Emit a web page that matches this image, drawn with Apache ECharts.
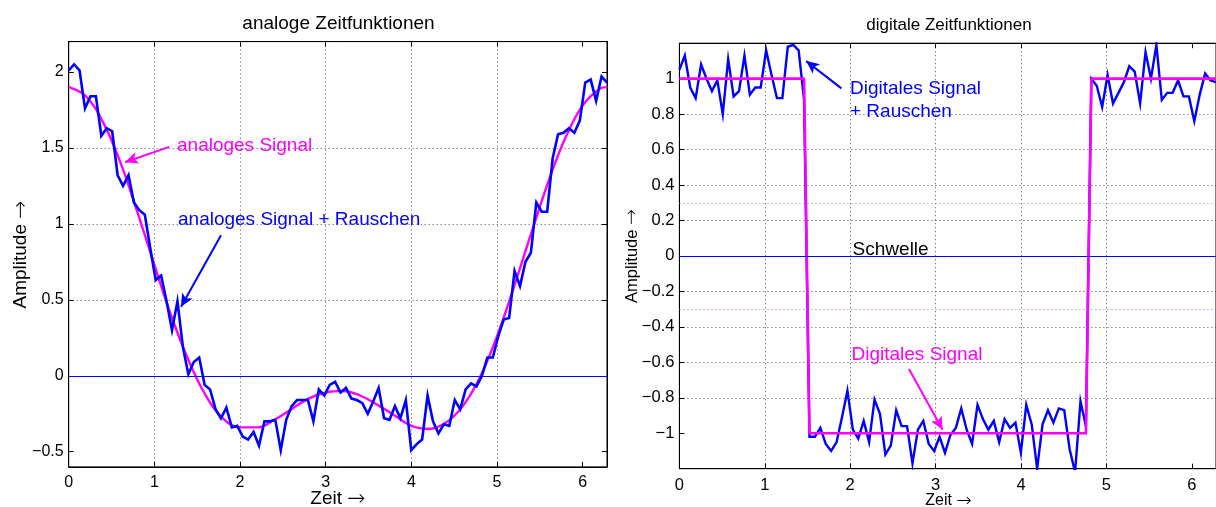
<!DOCTYPE html>
<html>
<head>
<meta charset="utf-8">
<script src="https://cdn.jsdelivr.net/npm/echarts@6/dist/echarts.min.js"></script>
<style>
html, body { margin: 0; padding: 0; background: #fff; }
#chart { width: 1216px; height: 507px; }
</style>
</head>
<body>
<div id="chart"></div>
<script>
"use strict";
var fontName = '"Liberation Sans", Arial, Helvetica, sans-serif';
var blue = '#0000ff';
var magenta = '#ff00ff';

// 100 samples from 0 to 2*pi
var tMax = 2 * Math.PI;
var tStep = tMax / 99;

// left: analog signal + noise (one value per sample)
var analogNoisy = [
	2.01, 2.05, 2.01, 1.76, 1.84, 1.84, 1.58, 1.63, 1.61, 1.32,
	1.25, 1.32, 1.14, 1.09, 1.06, 0.84, 0.63, 0.66, 0.49, 0.30,
	0.49, 0.19, 0.01, 0.09, 0.12, -0.06, -0.09, -0.22, -0.28, -0.21,
	-0.34, -0.33, -0.40, -0.42, -0.37, -0.46, -0.30, -0.30, -0.29, -0.49,
	-0.29, -0.20, -0.16, -0.16, -0.16, -0.30, -0.09, -0.13, -0.06, -0.04,
	-0.11, -0.08, -0.15, -0.16, -0.18, -0.25, -0.17, -0.08, -0.28, -0.29,
	-0.20, -0.28, -0.16, -0.49, -0.45, -0.42, -0.13, -0.30, -0.38, -0.32,
	-0.33, -0.16, -0.22, -0.09, -0.05, -0.07, 0.00, 0.12, 0.12, 0.26,
	0.37, 0.38, 0.69, 0.59, 0.75, 0.81, 1.14, 1.08, 1.08, 1.43,
	1.59, 1.60, 1.63, 1.60, 1.68, 1.93, 1.95, 1.81, 1.97, 1.93
];

// left: clean analog signal
var analogT = [0, 0.2, 0.4, 0.6, 0.8, 1.0, 1.2, 1.4, 1.6, 1.8, 2.0, 2.2, 2.4, 2.6, 2.8, 3.0,
	3.2, 3.4, 3.6, 3.8, 4.0, 4.2, 4.4, 4.6, 4.8, 5.0, 5.2, 5.4, 5.6, 5.8, 6.0, 6.2, 6.283];
var analogV = [1.90, 1.84, 1.67, 1.41, 1.08, 0.73, 0.39, 0.10, -0.13, -0.28, -0.34, -0.34, -0.29, -0.22, -0.15, -0.11,
	-0.10, -0.13, -0.19, -0.26, -0.33, -0.35, -0.31, -0.20, -0.01, 0.26, 0.59, 0.94, 1.28, 1.57, 1.78, 1.89, 1.90];

// right: digital signal + noise
var digitalNoisy = [
	1.05, 1.13, 0.95, 0.89, 1.08, 1.00, 0.93, 0.99, 0.80, 1.11,
	0.90, 0.93, 1.13, 0.91, 0.95, 0.95, 1.16, 1.02, 0.89, 0.89,
	1.18, 1.19, 1.16, 0.88, -1.02, -1.02, -0.97, -1.06, -1.10, -1.05,
	-0.91, -0.76, -0.98, -1.03, -0.93, -1.05, -0.81, -0.89, -1.12, -1.07,
	-0.87, -0.96, -0.96, -1.17, -0.98, -0.93, -1.06, -1.10, -1.02, -1.11,
	-1.01, -0.97, -0.86, -0.98, -1.06, -0.84, -0.92, -0.98, -0.93, -1.05,
	-0.92, -0.97, -0.94, -1.11, -0.84, -0.95, -1.20, -0.95, -0.87, -0.94,
	-0.86, -0.87, -1.09, -1.22, -0.82, -0.96, 1.00, 0.96, 0.84, 1.02,
	0.86, 0.92, 0.98, 1.07, 1.04, 0.86, 1.15, 1.00, 1.19, 0.88,
	0.92, 0.92, 0.99, 0.90, 0.90, 0.76, 0.91, 1.03, 0.99, 0.98
];

// right: clean digital signal (corner points)
var digitalT = [0, 1.460, 1.523, 4.760, 4.824, 6.283];
var digitalV = [1, 1, -1, -1, 1, 1];

var xTicks = [0, 1, 2, 3, 4, 5, 6];
var leftYTicks = [-0.5, 0, 0.5, 1, 1.5, 2];
var rightYTicks = [-1, -0.8, -0.6, -0.4, -0.2, 0, 0.2, 0.4, 0.6, 0.8, 1];

function sampled(values) {
	return values.map(function(v, i) { return [i * tStep, v]; });
}

function paired(ts, vs) {
	return ts.map(function(t, i) { return [t, vs[i]]; });
}

function minusSign(v) {
	return String(v).replace('-', '\u2212');
}

function axis(pos, gridIndex, min, max, ticks, withLabels, fontSize, margin) {
	return {
		type : 'value',
		gridIndex : gridIndex,
		position : pos,
		min : min,
		max : max,
		axisLine : { show : true, onZero : false, lineStyle : { color : '#000', width : 1 } },
		axisTick : { show : true, inside : true, length : 5, customValues : ticks, lineStyle : { color : '#000' } },
		axisLabel : {
			show : withLabels,
			customValues : ticks,
			color : '#000',
			fontFamily : fontName,
			fontSize : fontSize,
			margin : margin,
			formatter : minusSign
		},
		splitLine : {
			show : withLabels,
			showMinLine : false,
			showMaxLine : false,
			lineStyle : { color : '#555', width : 1, type : [1, 3] }
		}
	};
}

function arrow(color, from, to) {
	return {
		type : 'line',
		xAxisIndex : from.xi,
		yAxisIndex : from.yi,
		data : [],
		silent : true,
		markLine : {
			silent : true,
			symbol : [ 'none', 'arrow' ],
			symbolSize : [ 9, 13 ],
			label : { show : false },
			lineStyle : { color : color, width : 2, type : 'solid' },
			data : [ [ { coord : from.c }, { coord : to } ] ]
		}
	};
}

// plain text, or "name {ar|→}" with the arrow taken from DejaVu (wider glyph)
function text(str, x, y, size, color, align, rotation) {
	return {
		type : 'text',
		x : x,
		y : y,
		rotation : rotation || 0,
		silent : true,
		style : {
			text : str,
			fill : color,
			fontFamily : fontName,
			fontSize : size,
			align : align,
			verticalAlign : 'middle',
			rich : {
				ar : { fontFamily : '"DejaVu Sans"', fontWeight : 200, fontSize : size * 1.15, fill : color }
			}
		}
	};
}

var chart = echarts.init(document.getElementById('chart'), null, { renderer : 'canvas' });

chart.setOption({
	animation : false,
	backgroundColor : '#fff',
	grid : [
		{ left : 68.7, right : 609, top : 41.6, bottom : 40.1, show : true, borderColor : '#000', borderWidth : 1 },
		{ left : 679.4, right : -3.3, top : 43.2, bottom : 38.3, show : true, borderColor : '#000', borderWidth : 1 }
	],
	xAxis : [
		axis('bottom', 0, 0, tMax, xTicks, true, 16, 8),
		axis('top', 0, 0, tMax, xTicks, false, 16, 8),
		axis('bottom', 1, 0, tMax, xTicks, true, 16.5, 8),
		axis('top', 1, 0, tMax, xTicks, false, 16.5, 8)
	],
	yAxis : [
		axis('left', 0, -0.6, 2.2, leftYTicks, true, 16, 5),
		axis('right', 0, -0.6, 2.2, leftYTicks, false, 16, 5),
		axis('left', 1, -1.2, 1.2, rightYTicks, true, 16.5, 5)
	],
	series : [
		{
			name : 'analoges Signal',
			type : 'line',
			xAxisIndex : 0,
			yAxisIndex : 0,
			data : paired(analogT, analogV),
			smooth : 0.4,
			symbol : 'none',
			lineStyle : { color : magenta, width : 2.4 },
			z : 2
		},
		{
			name : 'analoges Signal + Rauschen',
			type : 'line',
			xAxisIndex : 0,
			yAxisIndex : 0,
			data : sampled(analogNoisy),
			symbol : 'none',
			lineStyle : { color : blue, width : 2.6, join : 'miter' },
			z : 3,
			markLine : {
				silent : true,
				symbol : 'none',
				label : { show : false },
				lineStyle : { color : blue, width : 1, type : 'solid' },
				data : [ { yAxis : 0 } ]
			}
		},
		{
			name : 'Digitales Signal + Rauschen',
			type : 'line',
			xAxisIndex : 2,
			yAxisIndex : 2,
			data : sampled(digitalNoisy),
			symbol : 'none',
			lineStyle : { color : blue, width : 2.4, join : 'miter' },
			z : 2,
			markLine : {
				silent : true,
				symbol : 'none',
				label : { show : false },
				data : [
					{ yAxis : 0, lineStyle : { color : blue, width : 1, type : 'solid' } },
					{ yAxis : 0.3, lineStyle : { color : '#7a7aff', width : 1, type : [1, 3] } },
					{ yAxis : -0.3, lineStyle : { color : '#7a7aff', width : 1, type : [1, 3] } }
				]
			}
		},
		{
			name : 'Digitales Signal',
			type : 'line',
			xAxisIndex : 2,
			yAxisIndex : 2,
			data : paired(digitalT, digitalV),
			symbol : 'none',
			lineStyle : { color : magenta, width : 2.6 },
			z : 3
		},
		arrow(magenta, { xi : 0, yi : 0, c : [1.174, 1.507] }, [0.657, 1.406]),
		arrow(blue, { xi : 0, yi : 0, c : [1.778, 0.925] }, [1.311, 0.454]),
		arrow(blue, { xi : 2, yi : 2, c : [1.897, 0.945] }, [1.485, 1.099]),
		arrow(magenta, { xi : 2, yi : 2, c : [2.688, -0.638] }, [3.082, -0.980])
	],
	graphic : [
		text('analoge Zeitfunktionen', 338.5, 24, 19, '#000', 'center'),
		text('digitale Zeitfunktionen', 949, 25, 17, '#000', 'center'),
		text('Amplitude {ar|\u2192}', 21, 254.5, 19, '#000', 'center', Math.PI / 2),
		text('Zeit {ar|\u2192}', 338, 499, 19, '#000', 'center'),
		text('Amplitude {ar|\u2192}', 632, 256, 16.5, '#000', 'center', Math.PI / 2),
		text('Zeit {ar|\u2192}', 948.5, 501, 16, '#000', 'center'),
		text('analoges Signal', 177, 145.5, 19, magenta, 'left'),
		text('analoges Signal + Rauschen', 178, 220, 19, blue, 'left'),
		text('Digitales Signal', 850, 89, 19, blue, 'left'),
		text('+ Rauschen', 850, 112, 19, blue, 'left'),
		text('Digitales Signal', 851.5, 355, 19, magenta, 'left'),
		text('Schwelle', 852.6, 250, 19, '#000', 'left')
	]
});
</script>
</body>
</html>
